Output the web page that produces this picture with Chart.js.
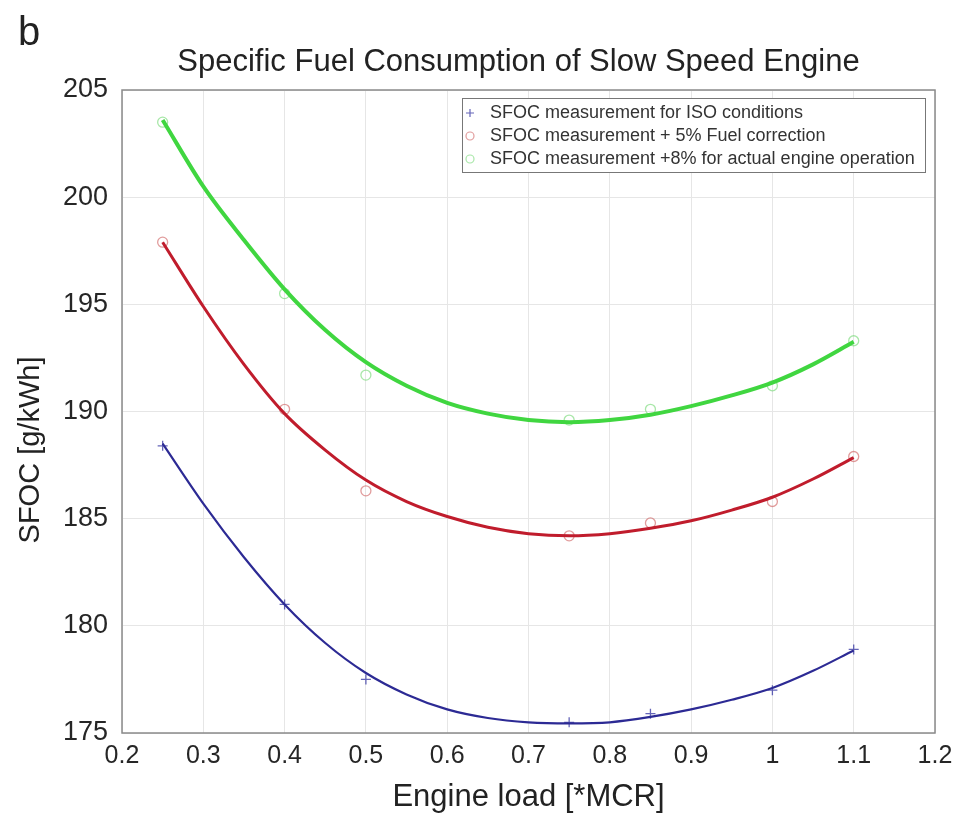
<!DOCTYPE html>
<html>
<head>
<meta charset="utf-8">
<script src="https://cdn.jsdelivr.net/npm/chart.js@4.4.1/dist/chart.umd.min.js"></script>
<style>
  html, body { margin: 0; padding: 0; background: #fff; }
  .wrap { position: relative; width: 955px; height: 821px; }
  .panel-tag { position: absolute; left: 18px; top: 9px; font: 40px "Liberation Sans", Arial, sans-serif; color: #222; }
</style>
</head>
<body>
<div class="wrap">
  <div class="panel-tag">b</div>
  <canvas id="sfoc-chart" width="955" height="821"></canvas>
</div>
<script>
// measured points (engine load, *MCR)
const loads = [0.25, 0.4, 0.5, 0.75, 0.85, 1.0, 1.1];
const isoMeas    = [188.4, 181.0, 177.5, 175.5, 175.9, 177.0, 178.9];
const fuelMeas   = [197.9, 190.1, 186.3, 184.2, 184.8, 185.8, 187.9];
const actualMeas = [203.5, 195.5, 191.7, 189.6, 190.1, 191.2, 193.3];

// fitted curves
const fitLoads  = [0.25, 0.3, 0.35, 0.4, 0.45, 0.5, 0.55, 0.6, 0.65, 0.7, 0.75, 0.8, 0.85, 0.9, 0.95, 1.0, 1.05, 1.1];
const isoFit    = [188.5, 185.7, 183.2, 181.0, 179.2, 177.8, 176.8, 176.1, 175.7, 175.5, 175.45, 175.5, 175.75, 176.1, 176.55, 177.1, 177.9, 178.85];
const fuelFit   = [197.9, 194.9, 192.2, 189.9, 188.2, 186.8, 185.8, 185.1, 184.6, 184.3, 184.2, 184.3, 184.55, 184.9, 185.4, 186.0, 186.85, 187.85];
const actualFit = [203.6, 200.5, 198.0, 195.7, 193.8, 192.3, 191.2, 190.4, 189.9, 189.6, 189.5, 189.6, 189.85, 190.25, 190.75, 191.35, 192.2, 193.25];

const seriesLabels = [
  'SFOC measurement for ISO conditions',
  'SFOC measurement + 5% Fuel correction',
  'SFOC measurement +8% for actual engine operation',
];
const titleText = 'Specific Fuel Consumption of Slow Speed Engine';
const xTitle = 'Engine load [*MCR]';
const yTitle = 'SFOC [g/kWh]';

const FONT = '"Liberation Sans", Arial, sans-serif';
const LINE_COLORS = ['#2c2a94', '#c01c2c', '#40d640'];
const MARK_COLORS = ['rgba(50,50,160,0.75)', 'rgba(205,90,90,0.6)', 'rgba(110,215,110,0.6)'];

const pts = (xs, ys) => xs.map((x, i) => ({ x, y: ys[i] }));

// box round the plot (matlab style)
const framePlugin = {
  id: 'frame',
  beforeDatasetsDraw(chart) {
    const { ctx, chartArea: a } = chart;
    ctx.save();
    ctx.strokeStyle = '#8a8a8a';
    ctx.lineWidth = 1.5;
    ctx.strokeRect(a.left, a.top, a.right - a.left, a.bottom - a.top);
    ctx.restore();
  },
};

// title over the plot centre, y label a bit low like the original
const textPlugin = {
  id: 'texts',
  afterDraw(chart) {
    const { ctx, chartArea: a } = chart;
    ctx.save();
    ctx.fillStyle = '#222';
    ctx.textAlign = 'center';
    ctx.textBaseline = 'middle';
    ctx.font = '31px ' + FONT;
    ctx.fillText(titleText, (a.left + a.right) / 2 - 10, 62);
    ctx.translate(31, 450);
    ctx.rotate(-Math.PI / 2);
    ctx.font = '29px ' + FONT;
    ctx.fillText(yTitle, 0, 0);
    ctx.restore();
  },
};

// legend box inside the plot, top right
const boxLegend = {
  id: 'boxLegend',
  afterDraw(chart) {
    const { ctx, chartArea: a } = chart;
    const x = a.left + 340, y = a.top + 8, w = 463, h = 74;
    ctx.save();
    ctx.fillStyle = '#fff';
    ctx.fillRect(x, y, w, h);
    ctx.strokeStyle = '#777';
    ctx.lineWidth = 1;
    ctx.strokeRect(x + 0.5, y + 0.5, w, h);
    ctx.font = '18px ' + FONT;
    ctx.textBaseline = 'middle';
    const styles = ['cross', 'circle', 'circle'];
    seriesLabels.forEach((label, i) => {
      const ry = y + 15 + i * 23;
      ctx.strokeStyle = MARK_COLORS[i];
      ctx.fillStyle = 'rgba(0,0,0,0)';
      ctx.lineWidth = 1.2;
      Chart.helpers.drawPoint(ctx, { pointStyle: styles[i], radius: 4, borderWidth: 1.2 }, x + 8, ry);
      ctx.fillStyle = '#333';
      ctx.fillText(label, x + 28, ry);
    });
    ctx.restore();
  },
};

const lineSet = (data, i, width) => ({
  data, borderColor: LINE_COLORS[i], borderWidth: width, pointRadius: 0,
  tension: 0.4, cubicInterpolationMode: 'monotone', showLine: true, fill: false,
});
const markSet = (data, i, style) => ({
  data, showLine: false, pointStyle: style, pointRadius: 5, pointBorderWidth: 1.3,
  pointBorderColor: MARK_COLORS[i], pointBackgroundColor: 'rgba(0,0,0,0)',
});

new Chart(document.getElementById('sfoc-chart'), {
  type: 'scatter',
  data: {
    datasets: [
      lineSet(pts(fitLoads, isoFit), 0, 2.2),
      lineSet(pts(fitLoads, fuelFit), 1, 3),
      lineSet(pts(fitLoads, actualFit), 2, 4),
      markSet(pts(loads, isoMeas), 0, 'cross'),
      markSet(pts(loads, fuelMeas), 1, 'circle'),
      markSet(pts(loads, actualMeas), 2, 'circle'),
    ],
  },
  options: {
    responsive: false,
    animation: false,
    layout: { padding: { left: 0, right: 20, top: 90, bottom: 0 } },
    plugins: {
      legend: { display: false },
      tooltip: { enabled: false },
    },
    scales: {
      x: {
        type: 'linear', min: 0.2, max: 1.2,
        ticks: {
          stepSize: 0.1, padding: 8, color: '#262626', font: { family: FONT, size: 25 },
          callback: v => String(Number(v.toFixed(1))),
        },
        grid: { color: '#e6e6e6', drawTicks: false },
        border: { display: false },
        title: { display: true, text: xTitle, color: '#222', font: { family: FONT, size: 31 }, padding: { top: 0, bottom: 5 } },
        afterFit(scale) { scale.height = 88; scale.paddingRight = 0; },
      },
      y: {
        min: 175, max: 205,
        ticks: { stepSize: 5, padding: 14, color: '#262626', font: { family: FONT, size: 27 } },
        grid: { color: '#e6e6e6', drawTicks: false },
        border: { display: false },
        afterFit(scale) { scale.width = 122; },
      },
    },
  },
  plugins: [framePlugin, textPlugin, boxLegend],
});
</script>
</body>
</html>
